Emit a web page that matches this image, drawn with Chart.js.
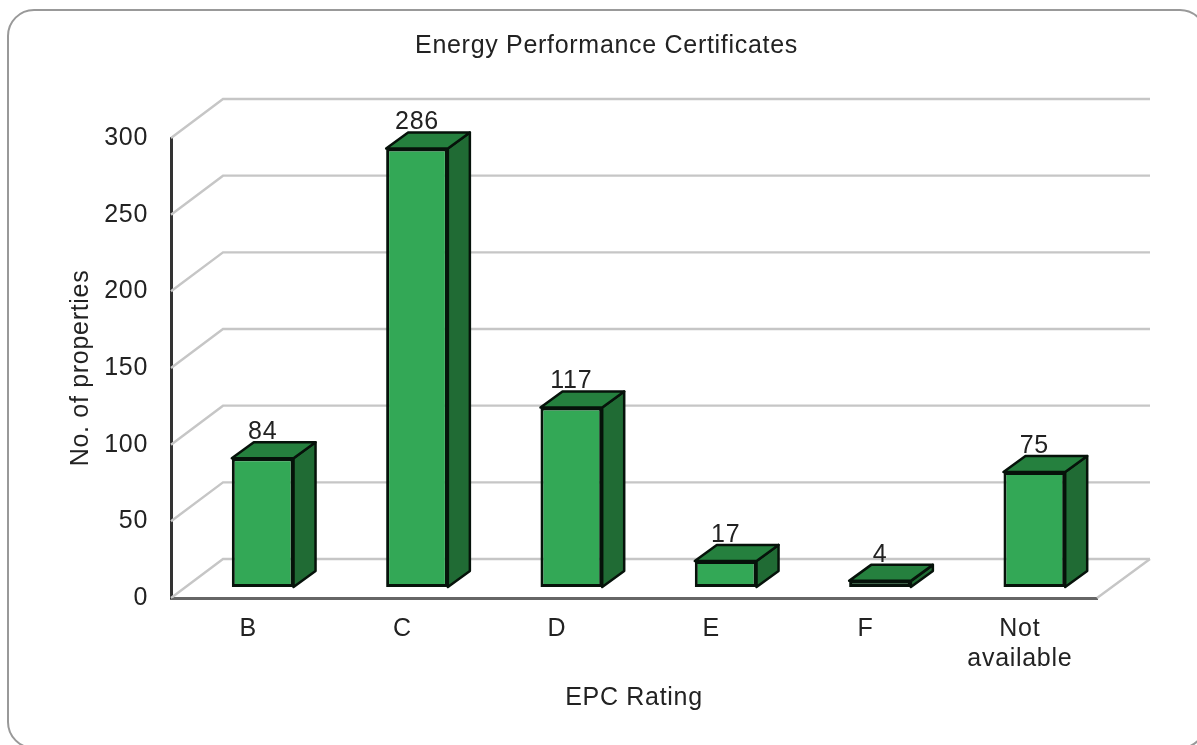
<!DOCTYPE html>
<html><head><meta charset="utf-8">
<script src="https://cdn.jsdelivr.net/npm/chart.js@4"></script>
<style>html,body{margin:0;padding:0;background:#fff;overflow:hidden}#w{width:1197px;height:745px}canvas{display:block;filter:blur(0.55px)}</style>
</head><body><div id="w"><canvas id="c" width="1197" height="745"></canvas></div>
<script>
const categories = ['B','C','D','E','F',['Not','available']];
const properties = [84,286,117,17,4,75];
const yTicks = [0,50,100,150,200,250,300];
const titleText = 'Energy Performance Certificates';
const xTitle = 'EPC Rating';
const yTitle = 'No. of properties';
const FONT = '"Liberation Sans", Arial, sans-serif';
const depthWall = {x:52,y:39}, barShift = {x:14.5,y:11}, barDepth = {x:22,y:16};
const FRONT='#33a856', TOP='#25803e', SIDE='#206b34', EDGE='#06120a', GRID='#c6c6c6', TXT='#222222';

const poly=(ctx,pts,fill,stroke,lw)=>{ctx.beginPath();pts.forEach((p,i)=>i?ctx.lineTo(p[0],p[1]):ctx.moveTo(p[0],p[1]));ctx.closePath();
  if(fill){ctx.fillStyle=fill;ctx.fill();} if(stroke){ctx.strokeStyle=stroke;ctx.lineWidth=lw;ctx.lineJoin='round';ctx.stroke();}};

const threeD={id:'threeD',
  afterLayout(chart){chart.titleBlock.right=chart.width;},
  beforeDraw(chart){const ctx=chart.ctx;ctx.letterSpacing='0.7px';ctx.save();
    ctx.beginPath();ctx.roundRect(8,10,1198,738,26);ctx.strokeStyle='#999';ctx.lineWidth=2;ctx.stroke();ctx.restore();},
  beforeDatasetsDraw(chart){
    const ctx=chart.ctx,y=chart.scales.y,a=chart.chartArea;
    ctx.save();ctx.strokeStyle=GRID;ctx.lineWidth=2.4;
    yTicks.forEach(t=>{const p=y.getPixelForValue(t);ctx.beginPath();
      ctx.moveTo(a.left,p);ctx.lineTo(a.left+depthWall.x,p-depthWall.y);ctx.lineTo(a.right+depthWall.x+1,p-depthWall.y);ctx.stroke();});
    const p0=y.getPixelForValue(0);ctx.beginPath();ctx.moveTo(a.right,p0);ctx.lineTo(a.right+depthWall.x+1,p0-depthWall.y);ctx.stroke();
    ctx.restore();
    const bars=chart.getDatasetMeta(0).data;
    bars.forEach(b=>{const L=b.x-b.width/2+barShift.x,R=b.x+b.width/2+barShift.x,T=b.y-barShift.y,B=b.base-barShift.y,dx=barDepth.x,dy=barDepth.y;
      ctx.save();
      poly(ctx,[[R,T],[R+dx,T-dy],[R+dx,B-dy],[R,B]],SIDE,EDGE,2.5);
      poly(ctx,[[L,T],[L+dx,T-dy],[R+dx,T-dy],[R,T]],TOP,EDGE,2.5);
      ctx.restore();});
    ctx.save();ctx.translate(barShift.x,-barShift.y);
  },
  afterDatasetsDraw(chart){
    const ctx=chart.ctx;ctx.restore();
    ctx.save();ctx.font='25px '+FONT;ctx.fillStyle=TXT;ctx.textAlign='center';ctx.textBaseline='middle';
    chart.getDatasetMeta(0).data.forEach((b,i)=>ctx.fillText(String(properties[i]),b.x+barShift.x,b.y-barShift.y-26));
    ctx.restore();
  }};

new Chart(document.getElementById('c'),{
  type:'bar',
  data:{labels:categories,datasets:[{data:properties,backgroundColor:FRONT,borderColor:EDGE,borderWidth:3,borderSkipped:false,barPercentage:0.4,categoryPercentage:1}]},
  options:{responsive:false,animation:false,
    layout:{padding:{left:16,right:100,top:0,bottom:0}},
    plugins:{legend:{display:false},tooltip:{enabled:false},
      title:{display:true,text:titleText,color:TXT,font:{family:FONT,size:25,weight:'normal'},padding:{top:31,bottom:77}}},
    scales:{
      x:{grid:{display:false},border:{color:'#666',width:3},
        ticks:{color:TXT,font:{family:FONT,size:25,lineHeight:1.2},padding:8,maxRotation:0,autoSkip:false},
        title:{display:true,text:xTitle,color:TXT,font:{family:FONT,size:25},padding:{top:0,bottom:32}},
        afterFit(s){s.height=147;}},
      y:{min:0,max:300,afterBuildTicks(s){s.ticks=yTicks.map(v=>({value:v}));},
        grid:{display:false},border:{color:'#333',width:3},
        ticks:{color:TXT,font:{family:FONT,size:25},padding:15},
        title:{display:true,text:yTitle,color:TXT,font:{family:FONT,size:25},padding:{top:50,bottom:0}},
        afterFit(s){s.width=155;}}
    }},
  plugins:[threeD]
});
</script></body></html>
